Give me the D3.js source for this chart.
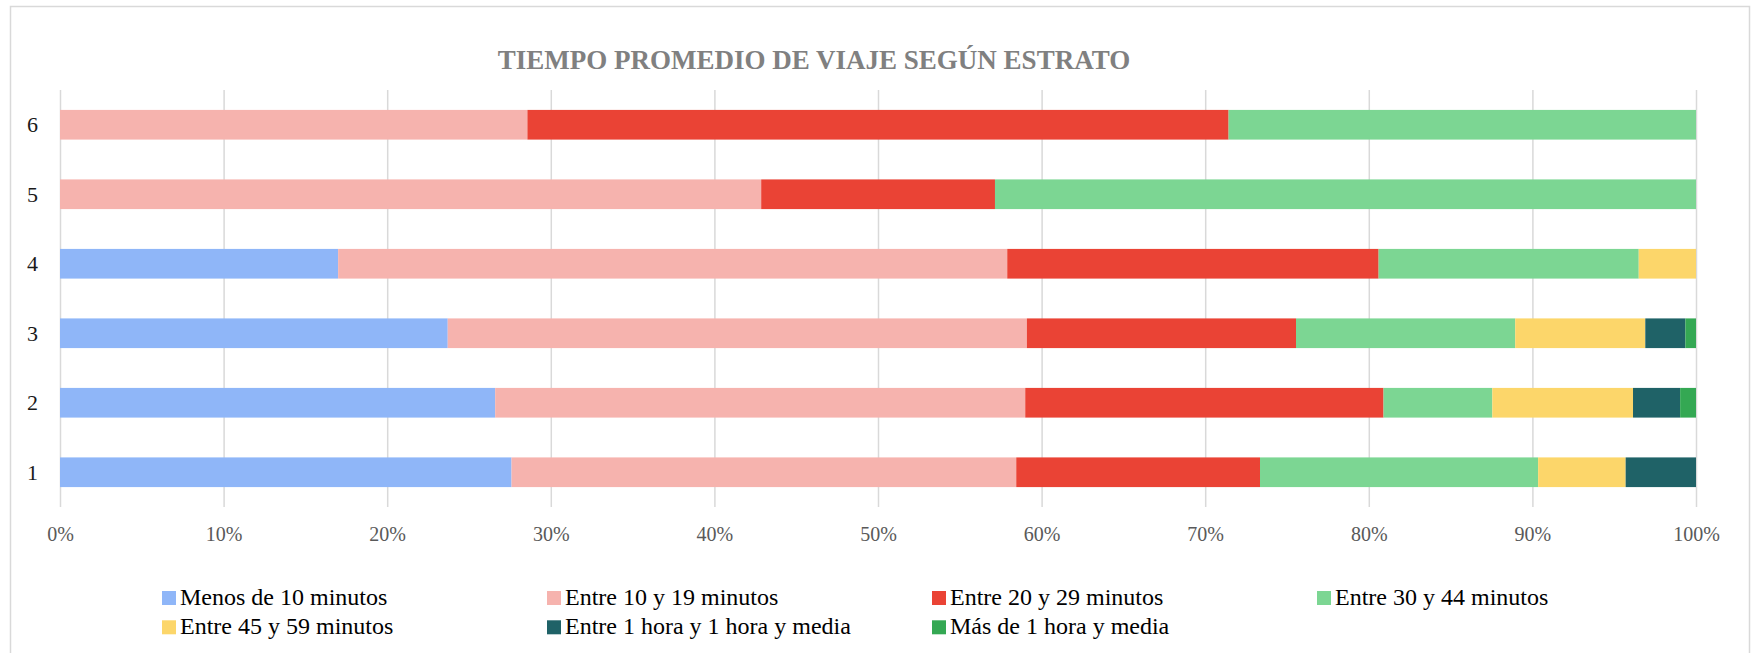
<!DOCTYPE html>
<html>
<head>
<meta charset="utf-8">
<script src="https://cdn.jsdelivr.net/npm/d3@7"></script>
<style>
  body { margin: 0; background: #fff; }
  svg { display: block; font-family: "Liberation Serif", "Times New Roman", serif; }
</style>
</head>
<body>
<div id="chart"></div>
<script>
var estratos = ["6", "5", "4", "3", "2", "1"];

var series = ["Menos de 10 minutos", "Entre 10 y 19 minutos", "Entre 20 y 29 minutos",
  "Entre 30 y 44 minutos", "Entre 45 y 59 minutos", "Entre 1 hora y 1 hora y media",
  "Más de 1 hora y media"];

// porcentaje por estrato (6 .. 1)
var menos10  = [0,     0,     17.0,  23.7,  26.6,  27.6];
var entre10  = [28.57, 42.86, 40.9,  35.4,  32.4,  30.85];
var entre20  = [42.86, 14.29, 22.7,  16.45, 21.9,  14.9];
var entre30  = [28.57, 42.85, 15.9,  13.4,  6.65,  17.0];
var entre45  = [0,     0,     3.5,   7.95,  8.6,   5.35];
var entre1h  = [0,     0,     0,     2.45,  2.88,  4.3];
var mas1h    = [0,     0,     0,     0.65,  0.97,  0];

var ticks = [0, 0.1, 0.2, 0.3, 0.4, 0.5, 0.6, 0.7, 0.8, 0.9, 1];

var colors = ["#8fb6f8", "#f6b3ae", "#ea4335", "#7cd693", "#fcd66a", "#1f6267", "#34a853"];

var width = 1751, height = 653;
var plotLeft = 60, plotRight = 1696, plotTop = 90, plotBottom = 507;

var svg = d3.select("#chart").append("svg")
    .attr("width", width)
    .attr("height", height);

// chart border
svg.append("rect")
    .attr("x", 10.5).attr("y", 6.5)
    .attr("width", 1739).attr("height", 660)
    .attr("fill", "#fff")
    .attr("stroke", "#d9d9d9")
    .attr("stroke-width", 1.5);

var cols = [menos10, entre10, entre20, entre30, entre45, entre1h, mas1h];
var rows = estratos.map(function(e, i) {
  var r = { estrato: e };
  series.forEach(function(s, j) { r[s] = cols[j][i]; });
  return r;
});

var stacked = d3.stack().keys(series)
    .offset(d3.stackOffsetExpand)(rows);

var x = d3.scaleLinear().domain([0, 1]).range([plotLeft, plotRight]);
var y = d3.scaleBand().domain(estratos).range([plotTop, plotBottom])
    .paddingInner(0.573).paddingOuter(0.2865);

var color = d3.scaleOrdinal().domain(series).range(colors);

// gridlines + tick labels
var xAxis = svg.append("g")
    .attr("transform", "translate(0," + plotBottom + ")")
    .call(d3.axisBottom(x)
      .tickValues(ticks)
      .tickFormat(d3.format(".0%"))
      .tickSizeInner(-(plotBottom - plotTop))
      .tickSizeOuter(0)
      .tickPadding(20));
xAxis.select(".domain").remove();
xAxis.selectAll(".tick line").attr("stroke", "#d9d9d9").attr("stroke-width", 1.5);
xAxis.selectAll(".tick text")
    .attr("fill", "#595959")
    .style("font-size", "20px")
    .style("font-family", "'Liberation Serif', 'Times New Roman', serif");

// bars
svg.append("g").selectAll("g")
  .data(stacked)
  .enter().append("g")
    .attr("fill", function(d) { return color(d.key); })
  .selectAll("rect")
  .data(function(d) { return d; })
  .enter().append("rect")
    .attr("x", function(d) { return x(d[0]); })
    .attr("y", function(d) { return y(d.data.estrato); })
    .attr("width", function(d) { return x(d[1]) - x(d[0]); })
    .attr("height", y.bandwidth());

// category labels
svg.append("g").selectAll("text")
  .data(estratos)
  .enter().append("text")
    .attr("x", 38)
    .attr("y", function(d) { return y(d) + y.bandwidth() / 2; })
    .attr("dy", "0.35em")
    .attr("text-anchor", "end")
    .attr("fill", "#1a1a1a")
    .style("font-size", "22px")
    .text(function(d) { return d; });

// title
svg.append("text")
    .attr("x", 814)
    .attr("y", 69)
    .attr("text-anchor", "middle")
    .attr("fill", "#808080")
    .style("font-size", "27px")
    .style("font-weight", "bold")
    .text("TIEMPO PROMEDIO DE VIAJE SEGÚN ESTRATO");

// legend, 4 columns x 2 rows
var legend = svg.append("g").selectAll("g")
  .data(series)
  .enter().append("g")
    .attr("transform", function(d, i) {
      return "translate(" + (162 + (i % 4) * 385) + "," + (591 + Math.floor(i / 4) * 29.3) + ")";
    });

legend.append("rect")
    .attr("width", 14).attr("height", 14)
    .attr("fill", function(d) { return color(d); });

legend.append("text")
    .attr("x", 18)
    .attr("y", 14)
    .attr("fill", "#000")
    .style("font-size", "24px")
    .text(function(d) { return d; });
</script>
</body>
</html>
